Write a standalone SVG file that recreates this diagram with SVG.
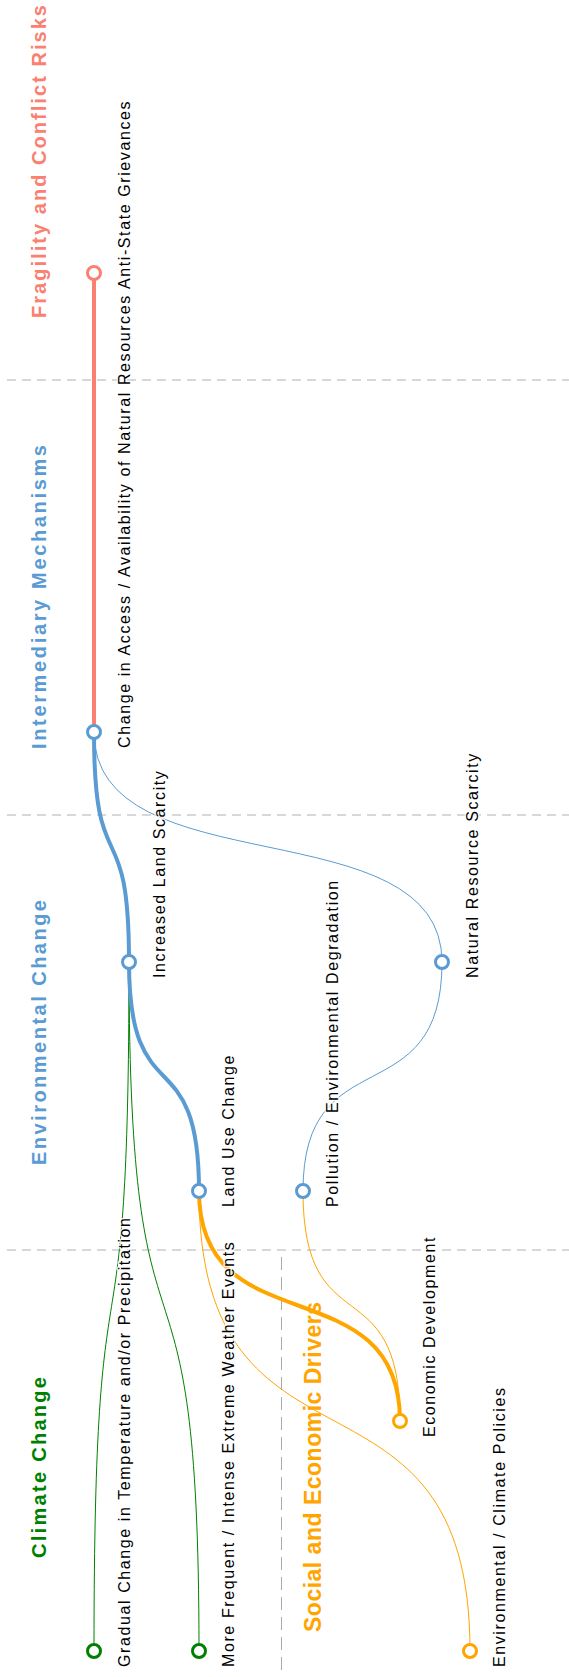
<svg xmlns="http://www.w3.org/2000/svg" width="569" height="1677" viewBox="0 0 569 1677">
<style>
.sep{stroke:#cccccc;stroke-width:1.5;stroke-dasharray:9 6;fill:none}
.vsep{stroke:#aaaaaa;stroke-width:1;stroke-dasharray:13 7;fill:none}
.title{font-family:"Liberation Sans",Arial,sans-serif;font-weight:bold;font-size:20px}
.lbl{font-family:"Liberation Sans",Arial,sans-serif;font-size:16px;letter-spacing:1.6px;fill:#000;stroke:#fff;stroke-width:3;stroke-opacity:0.8;paint-order:stroke;stroke-linejoin:round}
.link{fill:none}
.thick{stroke-width:4}
.thin{stroke-width:1}
.red{stroke:#FA8072}
.blue{stroke:#5A9BD3}
.orange{stroke:#FFA500}
.green{stroke:#008000}
.node{fill:#fff;stroke-width:3}
</style>
<g id="separators">
<line class="sep" x1="7" y1="380" x2="569" y2="380"/>
<line class="sep" x1="7" y1="815" x2="569" y2="815"/>
<line class="sep" x1="7" y1="1250" x2="569" y2="1250"/>
<line class="vsep" x1="281.5" y1="1257" x2="281.5" y2="1677"/>
</g>
<g id="titles">
<text class="title" fill="#FA8072" transform="translate(46,318) rotate(-90)" textLength="313" lengthAdjust="spacing">Fragility and Conflict Risks</text>
<text class="title" fill="#5A9BD3" transform="translate(46,749) rotate(-90)" textLength="304" lengthAdjust="spacing">Intermediary Mechanisms</text>
<text class="title" fill="#5A9BD3" transform="translate(46,1165) rotate(-90)" textLength="265" lengthAdjust="spacing">Environmental Change</text>
<text class="title" fill="#008000" transform="translate(46,1558) rotate(-90)" textLength="181" lengthAdjust="spacing">Climate Change</text>
<text class="title" fill="#FFA500" style="font-size:23px" transform="translate(321,1632) rotate(-90)" textLength="330" lengthAdjust="spacing">Social and Economic Drivers</text>
</g>
<g id="connectors">
<path class="link thin green" d="M129,962 C129,1430.5 94,1182.5 94,1651"/>
<path class="link thin green" d="M129,962 C129,1430.5 199,1182.5 199,1651"/>
<path class="link thin blue" d="M94,732 C94,888.4 442,805.6 442,962"/>
<path class="link thin blue" d="M442,962 C442,1117.7 303,1035.3 303,1191"/>
<path class="link thin orange" d="M303,1191 C303,1347.4 400,1264.6 400,1421"/>
<path class="link thin orange" d="M199,1191 C199,1503.8 470,1338.2 470,1651"/>
<path class="link thick red" d="M94,273 L94,732"/>
<path class="link thick blue" d="M94,732 C94,888.4 129,805.6 129,962"/>
<path class="link thick blue" d="M129,962 C129,1117.7 199,1035.3 199,1191"/>
<path class="link thick orange" d="M199,1191 C199,1347.4 400,1264.6 400,1421"/>
</g>
<g id="node-fragility"><circle class="node red" cx="94" cy="273" r="6.5"/></g>
<g id="node-access"><circle class="node blue" cx="94" cy="732" r="6.5"/>
<text class="lbl" transform="translate(130,748) rotate(-90)">Change in Access / Availability of Natural Resources Anti-State Grievances</text></g>
<g id="node-landscarcity"><circle class="node blue" cx="129" cy="962" r="6.5"/>
<text class="lbl" transform="translate(165,978) rotate(-90)">Increased Land Scarcity</text></g>
<g id="node-nrscarcity"><circle class="node blue" cx="442" cy="962" r="6.5"/>
<text class="lbl" transform="translate(478,978) rotate(-90)">Natural Resource Scarcity</text></g>
<g id="node-landuse"><circle class="node blue" cx="199" cy="1191" r="6.5"/>
<text class="lbl" transform="translate(234,1207) rotate(-90)">Land Use Change</text></g>
<g id="node-pollution"><circle class="node blue" cx="303" cy="1191" r="6.5"/>
<text class="lbl" transform="translate(338,1207) rotate(-90)">Pollution / Environmental Degradation</text></g>
<g id="node-econdev"><circle class="node orange" cx="400" cy="1421" r="6.5"/>
<text class="lbl" transform="translate(435,1437) rotate(-90)">Economic Development</text></g>
<g id="node-gradual"><circle class="node green" cx="94" cy="1651" r="6.5"/>
<text class="lbl" transform="translate(130,1667) rotate(-90)">Gradual Change in Temperature and/or Precipitation</text></g>
<g id="node-extreme"><circle class="node green" cx="199" cy="1651" r="6.5"/>
<text class="lbl" transform="translate(234,1667) rotate(-90)">More Frequent / Intense Extreme Weather Events</text></g>
<g id="node-policies"><circle class="node orange" cx="470" cy="1651" r="6.5"/>
<text class="lbl" transform="translate(505,1667) rotate(-90)">Environmental / Climate Policies</text></g>
</svg>
